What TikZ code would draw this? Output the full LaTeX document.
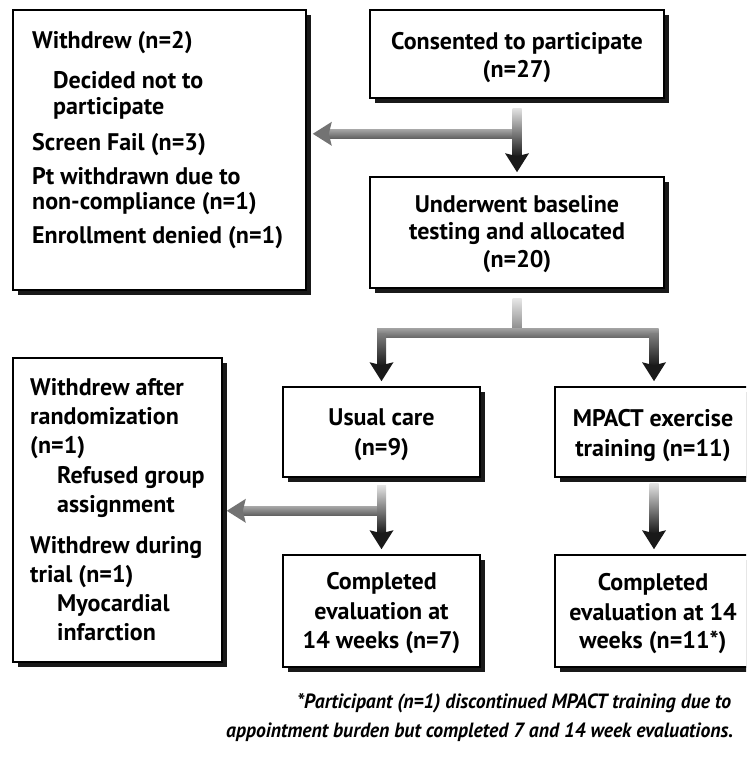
\documentclass[tikz,border=0pt]{standalone}
\usepackage{fontspec}
\setmainfont{PT Sans}
\newfontfamily\notefont{PT Sans}[FakeStretch=0.955]
\usetikzlibrary{shadows,calc}
\newcommand\darrowv[3]{%
  \shade[top color=#3, bottom color=black!88] let \p1=(#1), \p2=(#2) in (\x2-4.5pt,\y1) rectangle (\x2+4.5pt,\y2+17pt);
  \fill[black!90] let \p2=(#2) in (\x2,\y2) -- (\x2-12pt,\y2+19pt) -- (\x2,\y2+16pt) -- (\x2+12pt,\y2+19pt) -- cycle;}
\newcommand\harrowl[2]{%
  \shade[top color=black!35, bottom color=black!62] let \p1=(#1), \p2=(#2) in (\x2+16pt,\y2+4.5pt) rectangle (\x1,\y2-4.5pt);
  \fill[black!55] let \p2=(#2) in (\x2,\y2) -- (\x2+19pt,\y2+12pt) -- (\x2+16pt,\y2) -- (\x2+19pt,\y2-12pt) -- cycle;}
\begin{document}
\begin{tikzpicture}[x=1pt,y=-1pt,
  box/.style={draw, line width=1.6pt, fill=white, inner sep=0pt,
    drop shadow={shadow xshift=5pt, shadow yshift=-5pt, opacity=1, fill=black!90}},
  ltxt/.style={anchor=base west, inner sep=0pt, font=\fontsize{24}{28}\selectfont\bfseries},
  ctxt/.style={anchor=base, inner sep=0pt, font=\fontsize{24}{28}\selectfont\bfseries},
  note/.style={anchor=base west, inner sep=0pt, font=\notefont\fontsize{20.6}{24}\selectfont\bfseries\itshape}]
\useasboundingbox (0,0) rectangle (746,762);
\begin{scope}
\clip (0,0) rectangle (746,762);
% boxes
\node[box, minimum width=293pt, minimum height=280pt] (wd1) at (159.5,150) {};
\node[box, minimum width=294pt, minimum height=88pt] (consent) at (517,54) {};
\node[box, minimum width=294pt, minimum height=111pt] (baseline) at (517,232.5) {};
\node[box, minimum width=209pt, minimum height=304pt] (wd2) at (117.5,510) {};
\node[box, minimum width=197pt, minimum height=90pt] (usual) at (381.5,432) {};
\node[box, minimum width=198pt, minimum height=90pt] (mpact) at (654,432) {};
\node[box, minimum width=197pt, minimum height=112pt] (comp1) at (381.5,611) {};
\node[box, minimum width=198pt, minimum height=112pt] (comp2) at (654,611) {};
% texts
\node[ltxt] (wd1a) at (32,49) {Withdrew (n=2)};
\node[ltxt] (wd1b) at (53,89) {Decided not to};
\node[ltxt] (wd1c) at (53,115) {participate};
\node[ltxt] (wd1d) at (32,150) {Screen Fail (n=3)};
\node[ltxt] (wd1e) at (32,185) {Pt withdrawn due to};
\node[ltxt] (wd1f) at (32,209) {non-compliance (n=1)};
\node[ltxt] (wd1g) at (32,243) {Enrollment denied (n=1)};
\node[ctxt] (con1) at (517,50) {Consented to participate};
\node[ctxt] (con2) at (517,78) {(n=27)};
\node[ctxt] (bas1) at (517,212) {Underwent baseline};
\node[ctxt] (bas2) at (517,239) {testing and allocated};
\node[ctxt] (bas3) at (517,267) {(n=20)};
\node[ltxt] (wd2a) at (30,395) {Withdrew after};
\node[ltxt] (wd2b) at (30,424) {randomization};
\node[ltxt] (wd2c) at (30,453) {(n=1)};
\node[ltxt] (wd2d) at (57,483) {Refused group};
\node[ltxt] (wd2e) at (57,512) {assignment};
\node[ltxt] (wd2f) at (30,553) {Withdrew during};
\node[ltxt] (wd2g) at (30,582) {trial (n=1)};
\node[ltxt] (wd2h) at (57,611) {Myocardial};
\node[ltxt] (wd2i) at (57,640) {infarction};
\node[ctxt] (us1) at (381.5,425) {Usual care};
\node[ctxt] (us2) at (381.5,455) {(n=9)};
\node[ctxt] (mp1) at (653,426) {MPACT exercise};
\node[ctxt] (mp2) at (653,456) {training (n=11)};
\node[ctxt] (c1a) at (381.5,589) {Completed};
\node[ctxt] (c1b) at (381.5,619) {evaluation at};
\node[ctxt] (c1c) at (381.5,648) {14 weeks (n=7)};
\node[ctxt] (c2a) at (653,590) {Completed};
\node[ctxt] (c2b) at (653,620) {evaluation at 14};
\node[ctxt] (c2c) at (653,648) {weeks (n=11*)};
\node[note] (fn1) at (297,708) {*Participant (n=1) discontinued MPACT training due to};
\node[note] (fn2) at (226,737) {appointment burden but completed 7 and 14 week evaluations.};
% connectors
\coordinate (s1) at ($(consent.south)+(0,10)$);
\coordinate (br1) at ($(consent.south)+(0,35)$);
\coordinate (t1) at ($(baseline.north)+(0,-4)$);
\coordinate (tl1) at ($(br1 -| wd1.east)+(6,0)$);
\harrowl{br1}{tl1}
\darrowv{s1}{t1}{black!12}
\coordinate (s2) at ($(baseline.south)+(0,10)$);
\coordinate (bar) at ($(baseline.south)+(0,44.5)$);
\coordinate (barL) at (bar -| usual.north);
\coordinate (barR) at (bar -| mpact.north);
\shade[top color=black!10, bottom color=black!50] ($(s2)+(-4.5,0)$) rectangle ($(bar)+(4.5,0)$);
\shade[top color=black!38, bottom color=black!60] ($(barL)+(-4.5,-4.5)$) rectangle ($(barR)+(4.5,4.5)$);
\darrowv{barL}{$(usual.north)+(0,-5)$}{black!50}
\darrowv{barR}{$(mpact.north)+(0,-5)$}{black!50}
\coordinate (s3) at ($(usual.south)+(0,8)$);
\coordinate (br3) at ($(usual.south)+(0,33)$);
\coordinate (tl3) at ($(br3 -| wd2.east)+(4,0)$);
\harrowl{br3}{tl3}
\darrowv{s3}{$(comp1.north)+(0,-5)$}{black!12}
\darrowv{$(mpact.south)+(0,6)$}{$(comp2.north)+(0,-5)$}{black!12}
\end{scope}
\end{tikzpicture}
\end{document}
